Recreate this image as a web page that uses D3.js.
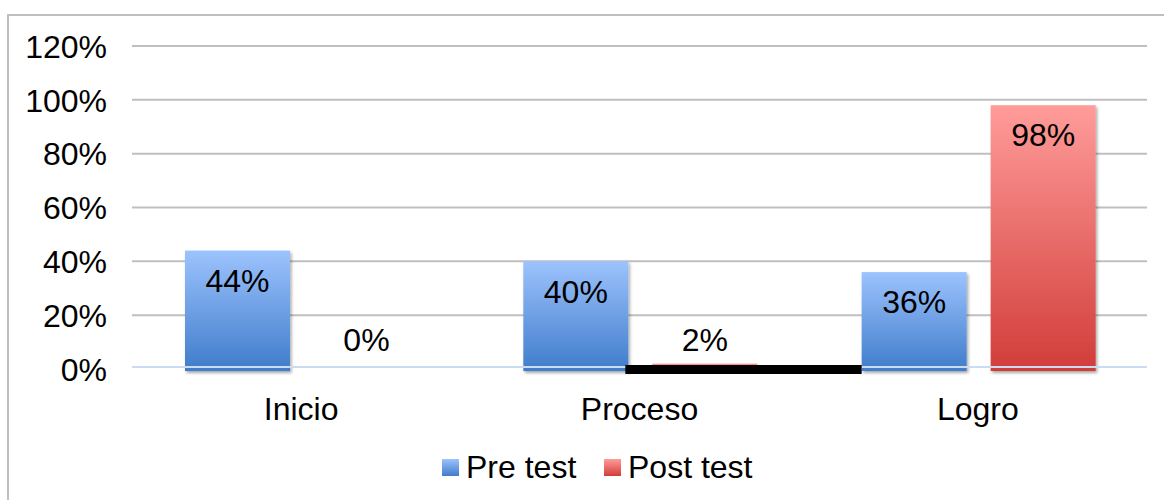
<!DOCTYPE html>
<html>
<head>
<meta charset="utf-8">
<script src="https://cdn.jsdelivr.net/npm/d3@7"></script>
<style>
  html, body { margin: 0; padding: 0; background: #fff; }
  svg { display: block; font-family: "Liberation Sans", Arial, sans-serif; }
</style>
</head>
<body>
<svg id="chart" width="1164" height="500"></svg>
<script>
// Chart data
const categories = ["Inicio", "Proceso", "Logro"];
const seriesNames = ["Pre test", "Post test"];
const preTest = [44, 40, 36];
const postTest = [0, 2, 98];
const yTicks = [0, 20, 40, 60, 80, 100, 120];

const W = 1164, H = 500;
const plot = { left: 132, right: 1147, top: 46, bottom: 369 };
const FS = 32;

const svg = d3.select("#chart");
const defs = svg.append("defs");

// Vertical gradients for the two series
function grad(id, top, bottom) {
  const g = defs.append("linearGradient").attr("id", id)
    .attr("x1", 0).attr("y1", 0).attr("x2", 0).attr("y2", 1);
  g.append("stop").attr("offset", "0%").attr("stop-color", top);
  g.append("stop").attr("offset", "100%").attr("stop-color", bottom);
}
grad("gBlue", "#9cc3fd", "#3f7ccb");
grad("gRed", "#ff9c9a", "#d13d39");

const shadow = defs.append("filter").attr("id", "shadow")
  .attr("x", "-10%").attr("y", "-10%").attr("width", "130%").attr("height", "130%");
shadow.append("feDropShadow").attr("dx", 1.5).attr("dy", 2)
  .attr("stdDeviation", 1.5).attr("flood-color", "#000").attr("flood-opacity", 0.35);

// Outer frame
svg.append("rect").attr("x", 8).attr("y", 15).attr("width", W + 20).attr("height", H + 20)
  .attr("fill", "#fff").attr("stroke", "#bfbfbf").attr("stroke-width", 2);

const x = d3.scaleBand().domain(categories).range([plot.left, plot.right]);
const xs = d3.scaleBand().domain(seriesNames).range([53, 287]).paddingInner(0.186);
const y = d3.scaleLinear().domain([0, 120]).range([plot.bottom, plot.top]);

// Gridlines
svg.append("g").selectAll("line").data(yTicks.filter(t => t > 0)).join("line")
  .attr("x1", plot.left).attr("x2", plot.right)
  .attr("y1", d => y(d)).attr("y2", d => y(d))
  .attr("stroke", "#bfbfbf").attr("stroke-width", 2);

// Y axis labels
const yAxis = d3.axisLeft(y).tickValues(yTicks).tickFormat(d => d + "%").tickSize(0).tickPadding(0);
const yg = svg.append("g").attr("transform", `translate(107,0)`).call(yAxis);
yg.select(".domain").remove();
yg.selectAll("text").attr("font-size", FS).attr("fill", "#000")
  .attr("font-family", "Liberation Sans, Arial, sans-serif").attr("dy", "0.35em");

// Bars
const series = [
  { name: "Pre test", values: preTest, fill: "url(#gBlue)" },
  { name: "Post test", values: postTest, fill: "url(#gRed)" }
];
const rows = [];
series.forEach(s => s.values.forEach((v, i) => rows.push({ cat: categories[i], s: s.name, v, fill: s.fill })));

svg.append("g").selectAll("rect").data(rows.filter(d => d.v > 0)).join("rect")
  .attr("x", d => x(d.cat) + xs(d.s))
  .attr("width", xs.bandwidth())
  .attr("y", d => y(d.v))
  .attr("height", d => y(0) - y(d.v) + 2)
  .attr("fill", d => d.fill)
  .attr("filter", "url(#shadow)");

// Baseline
svg.append("line").attr("x1", plot.left).attr("x2", plot.right)
  .attr("y1", y(0) - 2).attr("y2", y(0) - 2)
  .attr("stroke", "#c9dcf2").attr("stroke-width", 2);

// Dark band along the base between Proceso and Logro
const bandStart = x("Proceso") + xs("Pre test") + xs.bandwidth() - 3;
const bandEnd = x("Logro") + xs("Pre test");
svg.append("rect")
  .attr("x", bandStart).attr("width", bandEnd - bandStart)
  .attr("y", y(0) - 4).attr("height", 9).attr("fill", "#000");

// Value labels
svg.append("g").selectAll("text").data(rows).join("text")
  .attr("x", d => x(d.cat) + xs(d.s) + xs.bandwidth() / 2)
  .attr("y", d => Math.min(y(d.v) + 30, y(0) - 29))
  .attr("dy", "0.35em")
  .attr("text-anchor", "middle")
  .attr("font-size", FS).attr("fill", "#000")
  .text(d => d.v + "%");

// Category labels
svg.append("g").selectAll("text").data(categories).join("text")
  .attr("x", d => x(d) + x.bandwidth() / 2)
  .attr("y", 409).attr("dy", "0.35em")
  .attr("text-anchor", "middle").attr("font-size", FS).attr("fill", "#000")
  .text(d => d);

// Legend
const legend = svg.append("g");
const legendX = [442, 604];
series.forEach((s, i) => {
  legend.append("rect").attr("x", legendX[i]).attr("y", 459).attr("width", 17).attr("height", 17)
    .attr("fill", s.fill);
  legend.append("text").attr("x", legendX[i] + 24).attr("y", 467).attr("dy", "0.35em")
    .attr("font-size", FS).attr("fill", "#000").text(s.name);
});
</script>
</body>
</html>
